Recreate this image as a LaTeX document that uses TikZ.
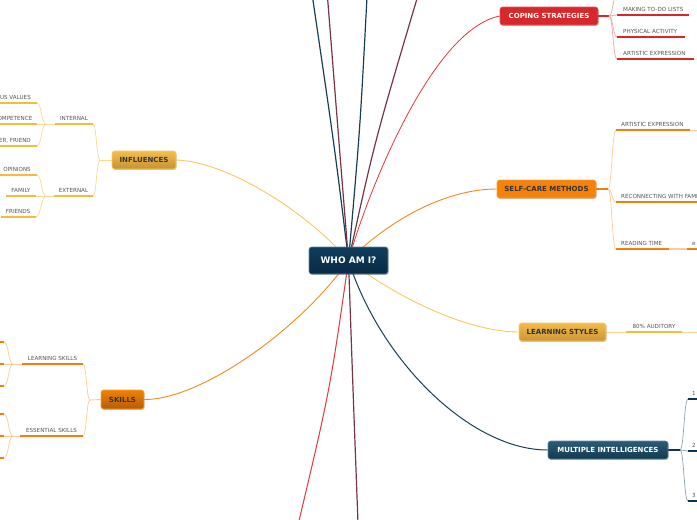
\documentclass[tikz,border=0pt]{standalone}
\usepackage{fontspec}
\setmainfont{DejaVu Sans}
\usetikzlibrary{shadows,backgrounds}

\definecolor{subgray}{HTML}{555555}
\definecolor{darktxt}{HTML}{333333}
\definecolor{ulY}{HTML}{F5BB3C}
\definecolor{ulO}{HTML}{F47F10}
\definecolor{ulR}{HTML}{D9262A}
\definecolor{ulN}{HTML}{0D3550}
\definecolor{fkY}{HTML}{FCD890}
\definecolor{fkO}{HTML}{FDCB98}
\definecolor{fkR}{HTML}{F2A6A6}
\definecolor{fkN}{HTML}{8CA3B3}
\definecolor{lnNavy}{HTML}{173F55}
\definecolor{lnMaroon}{HTML}{753644}
\definecolor{lnRed}{HTML}{E0383C}
\definecolor{lnOrange}{HTML}{F28A1E}
\definecolor{lnYellow}{HTML}{F9C862}
% node colours
\definecolor{whoTop}{HTML}{0F3D5C}
\definecolor{whoBot}{HTML}{082A44}
\definecolor{whoDraw}{HTML}{5E89A6}
\definecolor{infTop}{HTML}{F4BE4C}
\definecolor{infBot}{HTML}{C8922E}
\definecolor{infDraw}{HTML}{F7CB6A}
\definecolor{skTop}{HTML}{F08200}
\definecolor{skBot}{HTML}{B85C00}
\definecolor{skDraw}{HTML}{F5A040}
\definecolor{cpFill}{HTML}{D8272B}
\definecolor{cpDraw}{HTML}{E45558}
\definecolor{scFill}{HTML}{F7820A}
\definecolor{scDraw}{HTML}{F9A040}
\definecolor{lsTop}{HTML}{F3BC48}
\definecolor{lsBot}{HTML}{CC9535}
\definecolor{lsDraw}{HTML}{F5CC70}
\definecolor{miTop}{HTML}{2C5C77}
\definecolor{miBot}{HTML}{113A50}
\definecolor{miDraw}{HTML}{5F889F}

\tikzset{
  mainbox/.style={rounded corners=2.5pt, inner sep=0pt, line width=0.6pt,
    font=\fontsize{7}{8}\selectfont\bfseries,
    drop shadow={shadow xshift=0.6pt, shadow yshift=-0.9pt, opacity=0.22, fill=black}},
  sublbl/.style={font=\fontsize{5.6}{6}\selectfont, text=subgray, inner sep=0pt},
  underl/.style={line width=2.2pt},
  forkline/.style={line width=0.7pt},
  radial/.style={line width=1.2pt},
}

\newcommand\subtopic[8]{%
  \coordinate (#1-l) at (#2,#4);
  \coordinate (#1-r) at (#3,#4);
  \draw[underl,#5] (#1-l) -- (#1-r);
  \node[sublbl,anchor=#6] (#1) at (#7,{#4-4}) {#8};}
\newcommand\ticktopic[5]{%
  \coordinate (#1-l) at (#2,#4);
  \coordinate (#1-r) at (#3,#4);
  \draw[underl,#5] (#1-l) -- (#1-r);}

\begin{document}
\begin{tikzpicture}[x=1pt,y=-1pt]
\useasboundingbox (0,0) rectangle (697,520);
\clip (0,0) rectangle (697,520);

% ---------- main nodes ----------
\node[mainbox, top color=whoTop, bottom color=whoBot, draw=whoDraw, text=white,
  minimum width=79pt, minimum height=27pt, font=\fontsize{9}{10}\selectfont\bfseries]
  (who) at (348.5,260.5) {WHO AM I?};
\node[mainbox, top color=infTop, bottom color=infBot, draw=infDraw, text=darktxt,
  minimum width=64pt, minimum height=18pt] (infl) at (144,160) {INFLUENCES};
\node[mainbox, top color=skTop, bottom color=skBot, draw=skDraw, text=darktxt,
  minimum width=43pt, minimum height=19pt] (skills) at (122.5,399.5) {SKILLS};
\node[mainbox, fill=cpFill, draw=cpDraw, text=white,
  minimum width=98pt, minimum height=18pt] (cope) at (549,16) {COPING STRATEGIES};
\node[mainbox, fill=scFill, draw=scDraw, text=darktxt,
  minimum width=99pt, minimum height=18pt] (self) at (546.5,189) {SELF-CARE METHODS};
\node[mainbox, top color=lsTop, bottom color=lsBot, draw=lsDraw, text=darktxt,
  minimum width=87pt, minimum height=18pt] (learn) at (562.5,332) {LEARNING STYLES};
\node[mainbox, top color=miTop, bottom color=miBot, draw=miDraw, text=white,
  minimum width=120pt, minimum height=18pt] (mi) at (608,450) {MULTIPLE INTELLIGENCES};

% ---------- subtopics ----------
% influences
\subtopic{int}{55}{93}{124}{ulY}{base}{74}{INTERNAL}
\subtopic{ext}{54}{93}{196}{ulY}{base}{73.5}{EXTERNAL}
\subtopic{i1}{-2}{37}{103}{ulY}{base east}{31}{US VALUES}
\subtopic{i2}{-2}{37}{124}{ulY}{base east}{32.5}{OMPETENCE}
\subtopic{i3}{-2}{37}{146}{ulY}{base east}{31}{ER, FRIEND}
\subtopic{e1}{-2}{37}{175}{ulY}{base east}{31}{OPINIONS}
\subtopic{e2}{6}{36}{196}{ulY}{base east}{30.5}{FAMILY}
\subtopic{e3}{1}{36}{217}{ulY}{base east}{30.5}{FRIENDS}
% skills
\subtopic{ls}{22}{83}{364}{ulO}{base}{52.5}{LEARNING SKILLS}
\subtopic{es}{20}{83}{436}{ulO}{base}{51.5}{ESSENTIAL SKILLS}
\ticktopic{l1}{-2}{4}{342}{ulO}
\ticktopic{l2}{-2}{4}{364}{ulO}
\ticktopic{l3}{-2}{4}{386}{ulO}
\ticktopic{s1}{-2}{4}{414}{ulO}
\ticktopic{s2}{-2}{4}{436}{ulO}
\ticktopic{s3}{-2}{4}{458}{ulO}
% coping
\subtopic{c1}{617}{689}{15}{ulR}{base west}{623}{MAKING TO-DO LISTS}
\subtopic{c2}{617}{685}{37}{ulR}{base west}{623}{PHYSICAL ACTIVITY}
\subtopic{c3}{617}{694}{59}{ulR}{base west}{623}{ARTISTIC EXPRESSION}
\coordinate (c0-l) at (617,-6);
% self-care
\subtopic{sc1}{616}{690}{130}{ulO}{base west}{621}{ARTISTIC EXPRESSION}
\subtopic{sc2}{616}{700}{202}{ulO}{base west}{621}{RECONNECTING WITH FAMI}
\subtopic{sc3}{616}{669}{249}{ulO}{base west}{621}{READING TIME}
\subtopic{sc4}{687}{700}{249}{ulO}{base west}{692}{e}
\coordinate (sc1end) at (700,130);
% learning styles
\subtopic{au}{626}{682}{332}{ulY}{base}{654}{80\% AUDITORY}
\coordinate (auend) at (700,332);
% multiple intelligences
\subtopic{m1}{688}{700}{399}{ulN}{base west}{692}{1}
\subtopic{m2}{688}{700}{451}{ulN}{base west}{692}{2}
\subtopic{m3}{688}{700}{501}{ulN}{base west}{692}{3}

% ---------- off-canvas ends of radial lines ----------
\coordinate (t1) at (312.5,-3);
\coordinate (t2) at (327.5,-3);
\coordinate (t3) at (367,-3);
\coordinate (t4) at (417.5,-3);
\coordinate (b1) at (298.5,523);
\coordinate (b2) at (358,523);

% fork points
\coordinate (inflF) at (100,160);
\coordinate (intF) at (46,124);
\coordinate (extF) at (46,196);
\coordinate (skF) at (90,400);
\coordinate (lsF) at (13,364);
\coordinate (esF) at (13,436);
\coordinate (cpF) at (609,16);
\coordinate (scF) at (608,189);
\coordinate (miF) at (680,450);

\begin{scope}[on background layer]
  \fill[white] (0,0) rectangle (697,520);
  \clip (0,0) rectangle (697,520);
  % radial lines
  \draw[radial, lnNavy] (who.center) .. controls (335,150) .. (t1);
  \draw[radial, lnMaroon] (who.center) .. controls (338,130) .. (t2);
  \draw[radial, lnNavy] (who.center) .. controls (360,130) .. (t3);
  \draw[radial, lnMaroon] (who.center) .. controls (375,140) .. (t4);
  \draw[line width=1pt, lnRed] (who.center) .. controls (330,390) .. (b1);
  \draw[radial, lnMaroon] (who.center) .. controls (353,390) .. (b2);
  % main connectors
  \draw[line width=0.9pt, lnYellow] (who.center) .. controls (310,215) and (230,162) .. (infl.east);
  \draw[line width=0.9pt, lnOrange] (who.center) .. controls (300,330) and (200,400) .. (skills.east);
  \draw[line width=0.8pt, lnRed] (who.center) .. controls (365,200) and (430,30) .. (cope.west);
  \draw[line width=0.9pt, lnOrange] (who.center) .. controls (395,215) and (450,189) .. (self.west);
  \draw[line width=0.9pt, lnYellow] (who.center) .. controls (400,300) and (470,332) .. (learn.west);
  \draw[line width=1pt, lnNavy] (who.center) .. controls (380,360) and (470,450) .. (mi.west);
  % influences forks
  \draw[forkline, fkY, line width=0.9pt] (infl.west) -- (inflF);
  \draw[forkline, fkY] (inflF) .. controls +(-3.5,0) and +(3.5,0) .. (int-r);
  \draw[forkline, fkY] (inflF) .. controls +(-3.5,0) and +(3.5,0) .. (ext-r);
  \draw[forkline, fkY] (int-l) -- (intF);
  \draw[forkline, fkY] (intF) .. controls +(-4.5,0) and +(4.5,0) .. (i1-r);
  \draw[forkline, fkY] (intF) -- (i2-r);
  \draw[forkline, fkY] (intF) .. controls +(-4.5,0) and +(4.5,0) .. (i3-r);
  \draw[forkline, fkY] (ext-l) -- (extF);
  \draw[forkline, fkY] (extF) .. controls +(-4.5,0) and +(4.5,0) .. (e1-r);
  \draw[forkline, fkY] (extF) -- (e2-r);
  \draw[forkline, fkY] (extF) .. controls +(-4.5,0) and +(4.5,0) .. (e3-r);
  % skills forks
  \draw[forkline, fkO, line width=0.9pt] (skills.west) -- (skF);
  \draw[forkline, fkO] (skF) .. controls +(-3.5,0) and +(3.5,0) .. (ls-r);
  \draw[forkline, fkO] (skF) .. controls +(-3.5,0) and +(3.5,0) .. (es-r);
  \draw[forkline, fkO] (ls-l) -- (lsF);
  \draw[forkline, fkO] (lsF) .. controls +(-4.5,0) and +(4.5,0) .. (l1-r);
  \draw[forkline, fkO] (lsF) -- (l2-r);
  \draw[forkline, fkO] (lsF) .. controls +(-4.5,0) and +(4.5,0) .. (l3-r);
  \draw[forkline, fkO] (es-l) -- (esF);
  \draw[forkline, fkO] (esF) .. controls +(-4.5,0) and +(4.5,0) .. (s1-r);
  \draw[forkline, fkO] (esF) -- (s2-r);
  \draw[forkline, fkO] (esF) .. controls +(-4.5,0) and +(4.5,0) .. (s3-r);
  % coping forks
  \draw[line width=1.4pt, ulR] (cope.east) -- (cpF);
  \draw[forkline, fkR] (cpF) .. controls +(4,0) and +(-4,0) .. (c0-l);
  \draw[forkline, fkR] (cpF) .. controls +(4,0) and +(-4,0) .. (c1-l);
  \draw[forkline, fkR] (cpF) .. controls +(4,0) and +(-4,0) .. (c2-l);
  \draw[forkline, fkR] (cpF) .. controls +(4,0) and +(-4,0) .. (c3-l);
  % self-care forks
  \draw[line width=1.2pt, ulO] (self.east) -- (scF);
  \draw[forkline, fkO] (scF) .. controls +(4,0) and +(-4,0) .. (sc1-l);
  \draw[forkline, fkO] (scF) .. controls +(4,0) and +(-4,0) .. (sc2-l);
  \draw[forkline, fkO] (scF) .. controls +(4,0) and +(-4,0) .. (sc3-l);
  \draw[forkline, fkO] (sc1-r) -- (sc1end);
  \draw[forkline, fkO, line width=1.2pt] (sc3-r) -- (sc4-l);
  % learning styles
  \draw[forkline, fkY, line width=0.9pt] (learn.east) -- (au-l);
  \draw[forkline, fkY, line width=0.9pt] (au-r) -- (auend);
  % multiple intelligences forks
  \draw[line width=1.2pt, ulN] (mi.east) -- (miF);
  \draw[forkline, fkN] (miF) .. controls +(4,0) and +(-4,0) .. (m1-l);
  \draw[forkline, fkN] (miF) .. controls +(4,0) and +(-4,0) .. (m2-l);
  \draw[forkline, fkN] (miF) .. controls +(4,0) and +(-4,0) .. (m3-l);
\end{scope}
\end{tikzpicture}
\end{document}
